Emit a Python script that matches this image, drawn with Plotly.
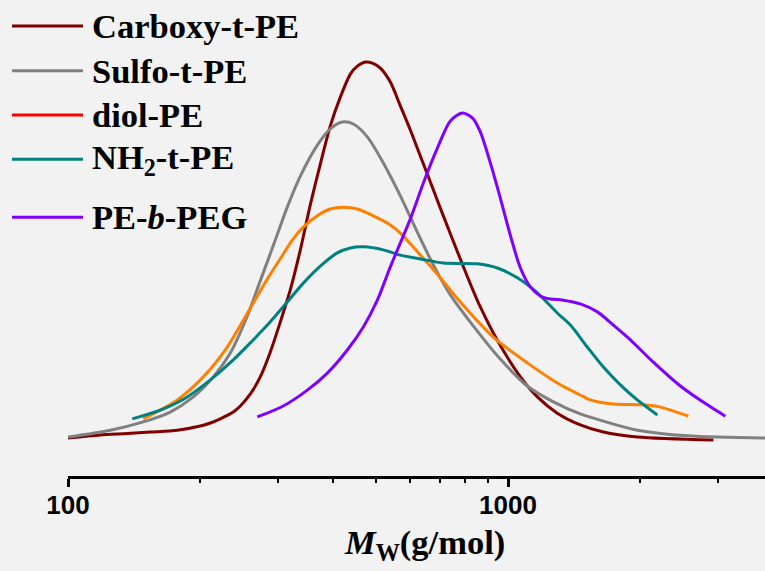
import plotly.graph_objects as go

# ---------------- data ----------------
carboxy_mw = [100, 118.4, 136.4, 153.8, 177.2, 199.8, 210.6, 221.9, 237.5, 246.4,
              259.7, 273.5, 288.3, 303.7, 320.0, 337.3, 355.3, 374.5, 394.6, 415.8,
              438.2, 454.5, 474.0, 491.7, 512.7, 540.2, 569.2, 599.8, 632.1, 665.8,
              712.9, 771.0, 821.0, 865.0, 950.6, 1067, 1166, 1294, 1460, 1647, 1967, 2929]
carboxy_int = [0.005, 0.013, 0.017, 0.021, 0.026, 0.037, 0.045, 0.056, 0.074, 0.090,
               0.122, 0.167, 0.233, 0.312, 0.397, 0.503, 0.622, 0.730, 0.831, 0.907,
               0.968, 0.989, 1.000, 0.997, 0.984, 0.947, 0.884, 0.820, 0.751, 0.683,
               0.593, 0.492, 0.413, 0.352, 0.259, 0.167, 0.114, 0.071, 0.040, 0.021, 0.008, 0.000]

sulfo_mw = [100, 124.8, 148.3, 170.8, 192.7, 214.0, 233.8, 255.6, 273.5, 295.9,
            315.0, 337.3, 368.7, 394.6, 420.2, 445.1, 478.9, 520.8, 569.2, 622.2,
            676.6, 739.5, 821.0, 960.5, 1106, 1268, 1460, 1647, 1967, 2556, 3845, 4000]
sulfo_int = [0.008, 0.026, 0.048, 0.074, 0.114, 0.167, 0.230, 0.328, 0.421, 0.529,
             0.616, 0.698, 0.780, 0.823, 0.841, 0.836, 0.802, 0.733, 0.646, 0.550,
             0.463, 0.384, 0.312, 0.214, 0.143, 0.101, 0.069, 0.050, 0.026, 0.011, 0.005, 0.005]

diol_mw = [148.3, 177.2, 203.0, 230.1, 250.3, 259.7, 283.8, 308.5, 323.4, 342.6,
           368.7, 394.6, 422.4, 454.5, 494.2, 540.2, 578.1, 599.8, 687.1, 779.2,
           926.0, 1106, 1315, 1460, 1538, 1736, 2030, 2219, 2570]
diol_int = [0.056, 0.106, 0.167, 0.246, 0.317, 0.349, 0.426, 0.492, 0.529, 0.563,
            0.593, 0.611, 0.616, 0.611, 0.593, 0.569, 0.540, 0.519, 0.442, 0.365,
            0.272, 0.204, 0.146, 0.119, 0.106, 0.095, 0.093, 0.087, 0.063]

nh2_mw = [140.0, 162.1, 186.7, 210.6, 237.5, 259.7, 283.8, 315.0, 342.6, 374.5,
          409.3, 438.2, 469.0, 520.8, 569.2, 632.1, 712.9, 851.6, 945.7, 1050,
          1166, 1294, 1386, 1514, 1647, 1800, 1967, 2185]
nh2_int = [0.056, 0.079, 0.114, 0.159, 0.212, 0.257, 0.304, 0.365, 0.415, 0.460,
           0.495, 0.508, 0.511, 0.503, 0.489, 0.479, 0.468, 0.466, 0.455, 0.429,
           0.389, 0.336, 0.304, 0.246, 0.193, 0.146, 0.106, 0.066]

peg_mw = [269.3, 308.5, 349.9, 388.5, 431.3, 469.0, 504.7, 540.2, 599.8, 642.1,
          690.9, 739.5, 787.4, 829.7, 865.0, 911.6, 960.5, 1012, 1067, 1124,
          1184, 1248, 1336, 1460, 1596, 1736, 1897, 2139, 2464, 2838, 3118]
peg_int = [0.061, 0.090, 0.132, 0.177, 0.238, 0.299, 0.370, 0.458, 0.585, 0.680,
           0.772, 0.844, 0.865, 0.852, 0.815, 0.733, 0.640, 0.542, 0.455, 0.405,
           0.381, 0.373, 0.370, 0.360, 0.339, 0.304, 0.265, 0.206, 0.143, 0.093, 0.063]

series_names = ["Carboxy-t-PE", "Sulfo-t-PE", "diol-PE", "NH2-t-PE", "PE-b-PEG"]
legend_labels = ["Carboxy-t-PE", "Sulfo-t-PE", "diol-PE", "NH<sub>2</sub>-t-PE", "PE-<i>b</i>-PEG"]
tick_vals = [100, 1000]
tick_text = ["100", "1000"]
minor_vals = [200, 300, 400, 500, 600, 700, 800, 900, 2000, 3000]

# ---------------- styles ----------------
curve_colors = ["#800000", "#808080", "#FF8000", "#008080", "#8000FF"]
legend_colors = ["#800000", "#808080", "#FF0000", "#008080", "#8000FF"]
BG = "#F2F2F2"
SERIF = "Liberation Serif"
SANS = "Liberation Sans"

fig = go.Figure()
data = [(carboxy_mw, carboxy_int), (sulfo_mw, sulfo_int), (diol_mw, diol_int),
        (nh2_mw, nh2_int), (peg_mw, peg_int)]
for (xs, ys), name, col in zip(data, series_names, curve_colors):
    fig.add_trace(go.Scatter(x=xs, y=ys, mode="lines", name=name, showlegend=False,
                             line=dict(color=col, width=3, shape="spline", smoothing=0.8),
                             hoverinfo="skip"))

# manual legend (paper coordinates)
legend_y = [0.9454, 0.8515, 0.7584, 0.6653, 0.5435]
for lab, col, yy in zip(legend_labels, legend_colors, legend_y):
    fig.add_shape(type="line", xref="paper", yref="paper", x0=-0.0803, x1=0.0215,
                  y0=yy, y1=yy, line=dict(color=col, width=3))
    fig.add_annotation(text=lab, xref="paper", yref="paper", x=0.032, y=yy,
                       xanchor="left", yanchor="middle", showarrow=False,
                       font=dict(family=SERIF, size=34.5, color="black", weight="bold"))

# axis title
fig.add_annotation(text="<i>M</i><sub>W</sub>(g/mol)", xref="paper", yref="paper",
                   x=0.5115, y=-0.1429, xanchor="center", yanchor="middle", showarrow=False,
                   font=dict(family=SERIF, size=34.5, color="black", weight="bold"))

fig.update_layout(
    width=765, height=571,
    margin=dict(l=68, r=0, t=0, b=95),
    paper_bgcolor=BG, plot_bgcolor=BG,
    xaxis=dict(type="log", range=[2, 3.584], showline=True, linecolor="black", linewidth=3,
               ticks="outside", ticklen=8, tickwidth=2.5, tickcolor="black",
               tickvals=tick_vals, ticktext=tick_text, ticklabelstandoff=-4,
               tickfont=dict(family=SANS, size=26, color="black", weight="bold"),
               showgrid=False, zeroline=False,
               minor=dict(tickvals=minor_vals, ticks="outside", ticklen=4, tickwidth=2,
                          tickcolor="black", showgrid=False)),
    yaxis=dict(range=[-0.0952, 1.164], visible=False, showgrid=False, zeroline=False),
)

fig.write_html("out.html")
